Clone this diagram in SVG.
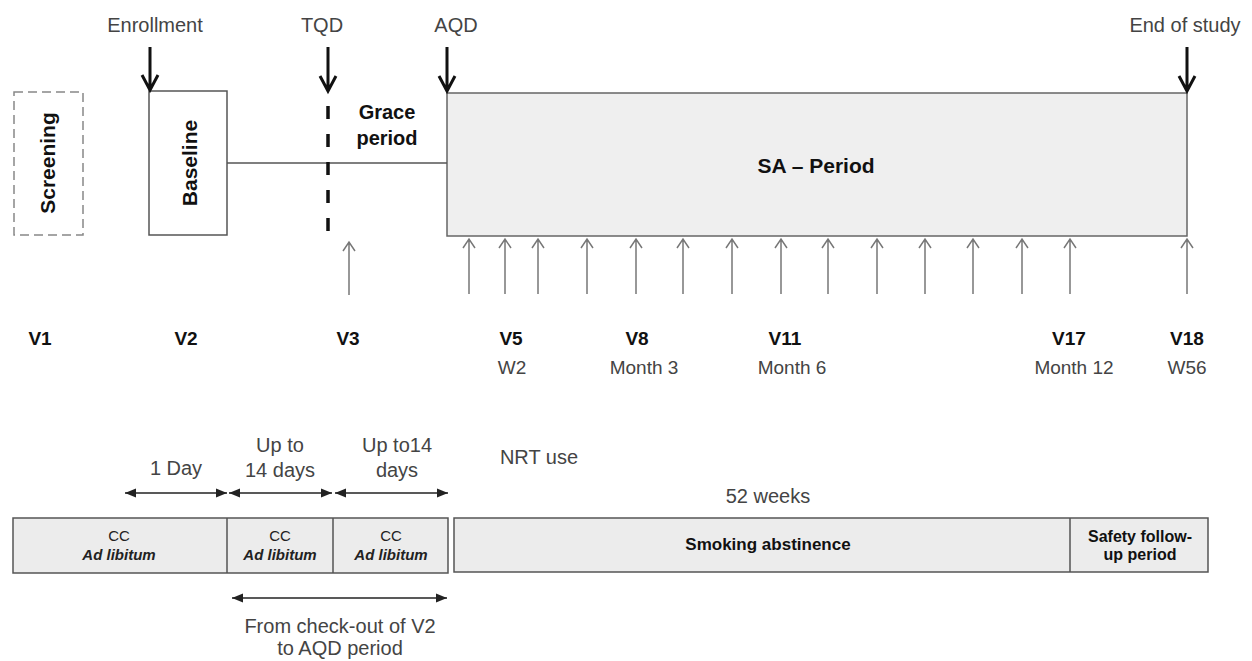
<svg xmlns="http://www.w3.org/2000/svg" width="1252" height="661" viewBox="0 0 1252 661">
<style>
text{font-family:"Liberation Sans",Arial,sans-serif;}
.lbl{font-size:20px;fill:#444;text-anchor:middle;}
.b{font-weight:bold;fill:#111;text-anchor:middle;}
.v{font-size:19px;font-weight:bold;fill:#111;text-anchor:middle;}
.sub{font-size:19px;fill:#444;text-anchor:middle;}
.big{stroke:#111;stroke-width:3;fill:none;}
.up{stroke:#777;stroke-width:1.5;fill:none;}
.dim{stroke:#222;stroke-width:1.5;fill:none;}
.box{fill:#efefef;stroke:#666;stroke-width:1.5;}
.bar{fill:#ececec;stroke:#555;stroke-width:1.5;}
.cc{font-size:15px;fill:#222;text-anchor:middle;}
.ad{font-size:15px;font-weight:bold;font-style:italic;fill:#222;text-anchor:middle;}
</style>
<defs>
<marker id="fh" viewBox="0 0 10 10" refX="10" refY="5" markerWidth="11" markerHeight="11" markerUnits="userSpaceOnUse" orient="auto-start-reverse">
<path d="M0,1 L10,5 L0,9 Z" fill="#222"/>
</marker>
</defs>

<g id="screening">
<rect x="14" y="92" width="69" height="143" fill="#fff" stroke="#888" stroke-width="1.5" stroke-dasharray="9,5"/>
<text class="b" font-size="21" transform="translate(55,163) rotate(-90)">Screening</text>
</g>
<g id="baseline">
<rect x="149" y="91" width="78" height="144" fill="#fff" stroke="#555" stroke-width="1.5"/>
<text class="b" font-size="21" transform="translate(197,163) rotate(-90)">Baseline</text>
</g>
<g id="grace">
<text class="b" font-size="20" x="387" y="119">Grace</text>
<text class="b" font-size="20" x="387" y="145">period</text>
</g>
<g id="sa-period">
<rect class="box" x="447" y="93" width="740" height="143"/>
<text class="b" font-size="21" x="816" y="173">SA – Period</text>
</g>

<g id="milestones">
<text class="lbl" x="155" y="32">Enrollment</text>
<text class="lbl" x="322" y="32">TQD</text>
<text class="lbl" x="456" y="32">AQD</text>
<text class="lbl" x="1185" y="32">End of study</text>
</g>

<g id="connectors">
<line x1="227" y1="163" x2="447" y2="163" stroke="#555" stroke-width="1.5"/>
<line x1="328" y1="106" x2="328" y2="234" stroke="#111" stroke-width="3.5" stroke-dasharray="13,15"/>
<g class="big">
<path d="M150,47 V90 M142,75 L150,90 L158,75"/>
<path d="M328,47 V91 M320,76 L328,91 L336,76"/>
<path d="M447,47 V91 M439,76 L447,91 L455,76"/>
<path d="M1187,47 V91 M1179,76 L1187,91 L1195,76"/>
</g>
<g class="up">
<path d="M349,295 V242 M343,251 L349,242 L355,251"/>
<path d="M469,294 V239 M463,248 L469,239 L475,248"/>
<path d="M505,294 V239 M499,248 L505,239 L511,248"/>
<path d="M538,294 V239 M532,248 L538,239 L544,248"/>
<path d="M587,294 V239 M581,248 L587,239 L593,248"/>
<path d="M636,294 V239 M630,248 L636,239 L642,248"/>
<path d="M683,294 V239 M677,248 L683,239 L689,248"/>
<path d="M732,294 V239 M726,248 L732,239 L738,248"/>
<path d="M781,294 V239 M775,248 L781,239 L787,248"/>
<path d="M828,294 V239 M822,248 L828,239 L834,248"/>
<path d="M877,294 V239 M871,248 L877,239 L883,248"/>
<path d="M925,294 V239 M919,248 L925,239 L931,248"/>
<path d="M973,294 V239 M967,248 L973,239 L979,248"/>
<path d="M1022,294 V239 M1016,248 L1022,239 L1028,248"/>
<path d="M1070,294 V239 M1064,248 L1070,239 L1076,248"/>
<path d="M1187,294 V239 M1181,248 L1187,239 L1193,248"/>
</g>
<g class="dim">
<line x1="125" y1="493" x2="227" y2="493" marker-start="url(#fh)" marker-end="url(#fh)"/>
<line x1="229" y1="493" x2="332" y2="493" marker-start="url(#fh)" marker-end="url(#fh)"/>
<line x1="335" y1="493" x2="448" y2="493" marker-start="url(#fh)" marker-end="url(#fh)"/>
<line x1="232" y1="598" x2="447" y2="598" marker-start="url(#fh)" marker-end="url(#fh)"/>
</g>
</g>

<g id="visits">
<text class="v" x="40" y="345">V1</text>
<text class="v" x="186" y="345">V2</text>
<text class="v" x="348" y="345">V3</text>
<text class="v" x="511" y="345">V5</text>
<text class="v" x="637" y="345">V8</text>
<text class="v" x="785" y="345">V11</text>
<text class="v" x="1069" y="345">V17</text>
<text class="v" x="1187" y="345">V18</text>
<text class="sub" x="512" y="374">W2</text>
<text class="sub" x="644" y="374">Month 3</text>
<text class="sub" x="792" y="374">Month 6</text>
<text class="sub" x="1074" y="374">Month 12</text>
<text class="sub" x="1187" y="374">W56</text>
</g>

<g id="durations">
<text class="lbl" font-size="21" x="176" y="475">1 Day</text>
<text class="lbl" x="280" y="452">Up to</text>
<text class="lbl" x="280" y="477">14 days</text>
<text class="lbl" x="397" y="452">Up to14</text>
<text class="lbl" x="397" y="477">days</text>
<text class="lbl" x="539" y="464" font-size="21">NRT use</text>
<text class="lbl" x="768" y="503" font-size="21">52 weeks</text>
<text class="lbl" x="340" y="633">From check-out of V2</text>
<text class="lbl" x="340" y="655">to AQD period</text>
</g>

<g id="bar-cc">
<rect class="bar" x="13" y="518" width="435" height="55"/>
<line x1="227" y1="518" x2="227" y2="573" stroke="#555" stroke-width="1.5"/>
<line x1="333" y1="518" x2="333" y2="573" stroke="#555" stroke-width="1.5"/>
<text class="cc" x="119" y="541">CC</text>
<text class="ad" x="119" y="560">Ad libitum</text>
<text class="cc" x="280" y="541">CC</text>
<text class="ad" x="280" y="560">Ad libitum</text>
<text class="cc" x="391" y="541">CC</text>
<text class="ad" x="391" y="560">Ad libitum</text>
</g>
<g id="bar-abstinence">
<rect class="bar" x="454" y="518" width="754" height="54"/>
<line x1="1070" y1="518" x2="1070" y2="572" stroke="#555" stroke-width="1.5"/>
<text class="b" font-size="17" x="768" y="550">Smoking abstinence</text>
<text class="b" font-size="16" x="1140" y="542">Safety follow-</text>
<text class="b" font-size="16" x="1140" y="560">up period</text>
</g>
</svg>
